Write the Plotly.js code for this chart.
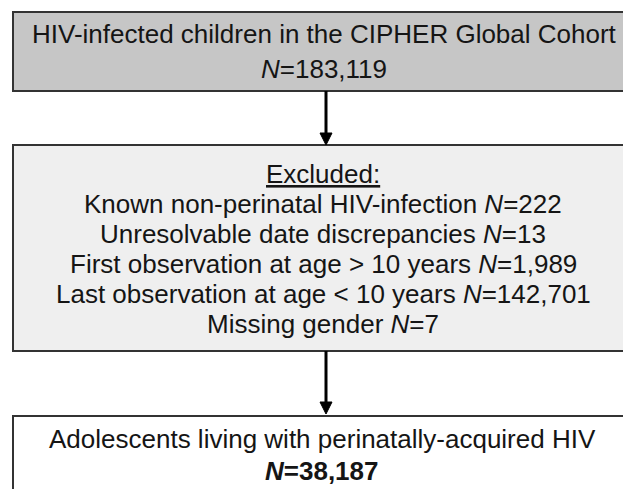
<!DOCTYPE html>
<html>
<head>
<meta charset="utf-8">
<script src="https://cdn.plot.ly/plotly-3.0.1.min.js"></script>
<style>html,body{margin:0;padding:0;background:#fff;}#chart{width:623px;height:489px;}</style>
</head>
<body>
<div id="chart"></div>
<script>
// Flowchart content
var topLabel = "HIV-infected children in the CIPHER Global Cohort";
var topN = "183,119";
var excludedTitle = "Excluded:";
var excludedReasons = [
  "Known non-perinatal HIV-infection",
  "Unresolvable date discrepancies",
  "First observation at age > 10 years",
  "Last observation at age < 10 years",
  "Missing gender"
];
var excludedN = ["222", "13", "1,989", "142,701", "7"];
var finalLabel = "Adolescents living with perinatally-acquired HIV";
var finalN = "38,187";

// Layout geometry (pixel space of the 623x489 figure)
var boxes = [
  {x0: 13, x1: 640, y0: 12, y1: 91, fill: "#c6c6c6"},
  {x0: 13, x1: 640, y0: 145, y1: 351, fill: "#efefef"},
  {x0: 13, x1: 640, y0: 416, y1: 520, fill: "#ffffff"}
];
var arrows = [{x: 326, y0: 91, y1: 145}, {x: 326, y0: 351, y1: 414}];
var fontFam = "Liberation Sans, Arial, sans-serif";
var textColor = "#151515";

var shapes = [];
boxes.forEach(function (b) {
  shapes.push({type: "rect", xref: "x", yref: "y", x0: b.x0, x1: b.x1, y0: b.y0, y1: b.y1,
    fillcolor: b.fill, line: {color: "#333333", width: 2}, layer: "below"});
});
arrows.forEach(function (a) {
  var hw = 6, hh = 12;
  shapes.push({type: "line", xref: "x", yref: "y", x0: a.x, x1: a.x, y0: a.y0, y1: a.y1 - hh + 1,
    line: {color: "#000", width: 3}});
  shapes.push({type: "path", xref: "x", yref: "y",
    path: "M " + (a.x - hw) + " " + (a.y1 - hh) + " L " + (a.x + hw) + " " + (a.y1 - hh) + " L " + a.x + " " + a.y1 + " Z",
    fillcolor: "#000", line: {color: "#000", width: 1}});
});

function ann(text, x, y, size) {
  return {x: x, y: y, xref: "x", yref: "y", text: text, showarrow: false,
    xanchor: "center", yanchor: "middle", font: {family: fontFam, size: size, color: textColor}};
}
var annotations = [];
annotations.push(ann(topLabel, 324, 34, 26));
annotations.push(ann("<i>N</i>=" + topN, 324, 69, 26));
annotations.push(ann("<u>" + excludedTitle + "</u>", 323, 174, 26));
excludedReasons.forEach(function (r, i) {
  annotations.push(ann(r + " <i>N</i>=" + excludedN[i], 323, 204 + 30 * i, 26));
});
annotations.push(ann(finalLabel, 322, 439, 26));
annotations.push(ann("<b><i>N</i>=" + finalN + "</b>", 322, 471, 26));

var layout = {
  width: 623, height: 489,
  margin: {l: 0, r: 0, t: 0, b: 0},
  paper_bgcolor: "#fff", plot_bgcolor: "#fff",
  xaxis: {range: [0, 623], visible: false, fixedrange: true},
  yaxis: {range: [489, 0], visible: false, fixedrange: true},
  shapes: shapes,
  annotations: annotations,
  showlegend: false
};
Plotly.newPlot("chart", [{x: [], y: [], type: "scatter"}], layout, {displayModeBar: false, staticPlot: true});
</script>
</body>
</html>
